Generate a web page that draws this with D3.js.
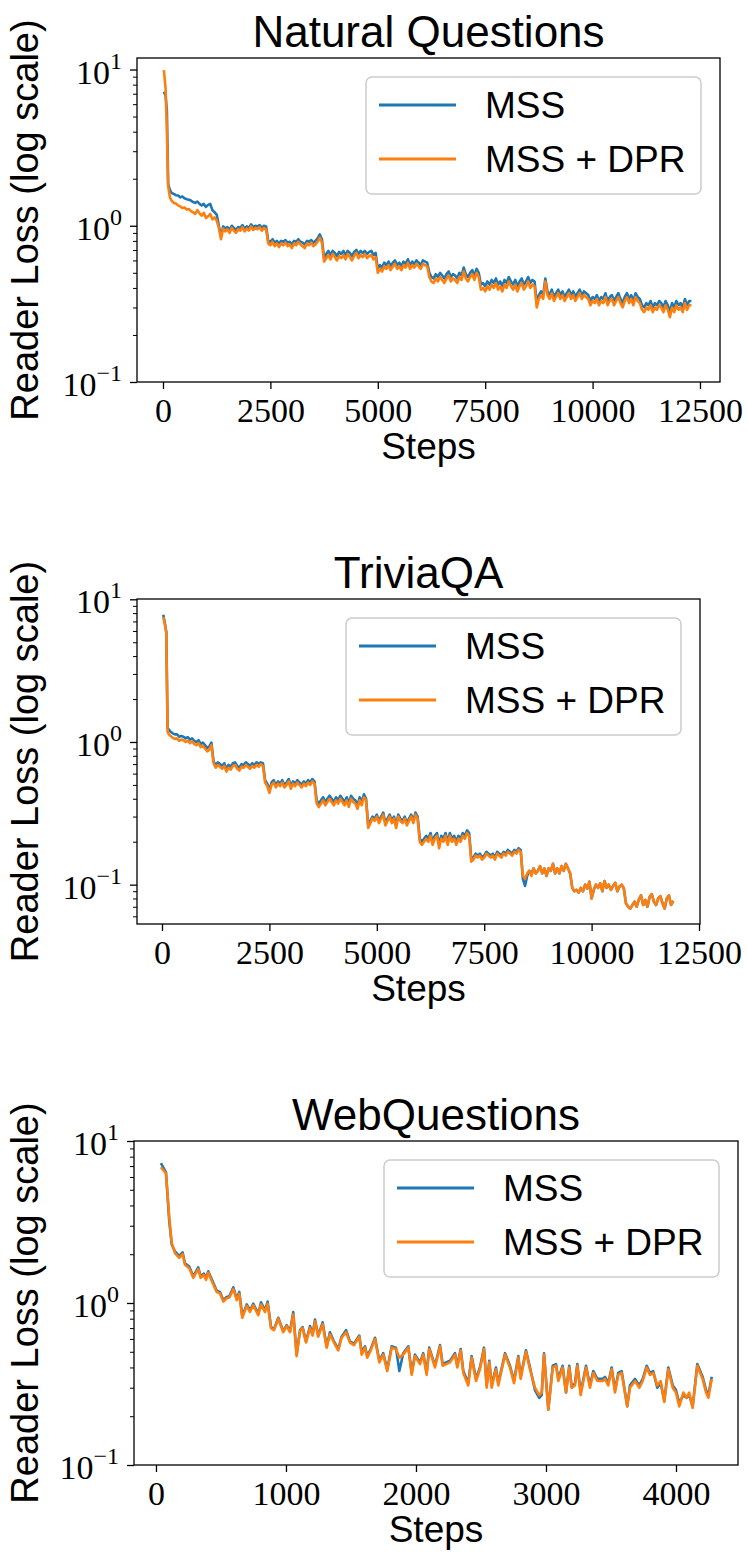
<!DOCTYPE html>
<html>
<head>
<meta charset="utf-8">
<script src="https://cdn.jsdelivr.net/npm/d3@7"></script>
<style>
body { margin: 0; background: #fff; }
</style>
</head>
<body>
<svg id="fig" width="748" height="1556"></svg>
<script>
var seriesNames = ["MSS", "MSS + DPR"];
var colors = ["#1f77b4", "#ff7f0e"];
var titles = ["Natural Questions", "TriviaQA", "WebQuestions"];
var xTicksLong = [0, 2500, 5000, 7500, 10000, 12500];
var xTicksShort = [0, 1000, 2000, 3000, 4000];
var yMajor = [0.1, 1, 10];
var yMajorLabels = ["\u22121", "0", "1"];

// Natural Questions (read every 50 steps)
var nqSteps = [20, 60, 90, 120, 160].concat(d3.range(200, 12350, 50));
var nqMss = [7.2, 6.8, 5.5, 1.85, 1.70,
  1.62, 1.60, 1.57, 1.56, 1.52, 1.54, 1.50, 1.48, 1.47, 1.45,
  1.42, 1.40, 1.43, 1.38, 1.35, 1.38, 1.32, 1.36, 1.38, 1.26,
  1.22, 1.18, 1.00, 0.86, 0.99, 0.96, 0.98, 0.94, 1.00, 0.97,
  0.94, 0.98, 0.97, 1.01, 0.96, 0.99, 0.97, 1.02, 0.98, 1.00,
  0.99, 1.01, 0.97, 1.00, 0.99, 0.80, 0.79, 0.82, 0.78, 0.80,
  0.77, 0.80, 0.79, 0.81, 0.78, 0.79, 0.76, 0.80, 0.79, 0.82,
  0.79, 0.78, 0.76, 0.80, 0.79, 0.81, 0.78, 0.80, 0.83, 0.88,
  0.82, 0.62, 0.66, 0.69, 0.65, 0.69, 0.67, 0.64, 0.68, 0.66,
  0.69, 0.65, 0.69, 0.67, 0.64, 0.68, 0.70, 0.66, 0.69, 0.67,
  0.69, 0.66, 0.68, 0.69, 0.65, 0.67, 0.53, 0.56, 0.54, 0.58,
  0.56, 0.59, 0.55, 0.58, 0.60, 0.56, 0.58, 0.55, 0.59, 0.57,
  0.61, 0.56, 0.59, 0.57, 0.60, 0.58, 0.56, 0.60, 0.59, 0.58,
  0.50, 0.47, 0.46, 0.49, 0.47, 0.50, 0.48, 0.46, 0.49, 0.51,
  0.47, 0.49, 0.48, 0.46, 0.50, 0.48, 0.54, 0.49, 0.47, 0.50,
  0.52, 0.48, 0.53, 0.50, 0.42, 0.43, 0.41, 0.44, 0.42, 0.45,
  0.43, 0.46, 0.42, 0.44, 0.41, 0.45, 0.43, 0.47, 0.44, 0.42,
  0.45, 0.41, 0.44, 0.46, 0.42, 0.44, 0.47, 0.43, 0.45, 0.44,
  0.32, 0.36, 0.38, 0.36, 0.46, 0.38, 0.36, 0.39, 0.35, 0.37,
  0.39, 0.36, 0.38, 0.35, 0.37, 0.39, 0.36, 0.38, 0.35, 0.37,
  0.39, 0.36, 0.38, 0.37, 0.36, 0.33, 0.35, 0.34, 0.36, 0.33,
  0.35, 0.34, 0.37, 0.33, 0.35, 0.36, 0.33, 0.35, 0.37, 0.34,
  0.32, 0.35, 0.37, 0.34, 0.36, 0.33, 0.37, 0.35, 0.34, 0.31,
  0.30, 0.32, 0.31, 0.33, 0.30, 0.32, 0.31, 0.33, 0.32, 0.30,
  0.33, 0.31, 0.28, 0.32, 0.30, 0.33, 0.31, 0.32, 0.30, 0.34,
  0.31, 0.33, 0.33];
var nqDpr = [9.9, 7.6, 4.2, 1.8, 1.52,
  1.45, 1.40, 1.39, 1.35, 1.33, 1.30, 1.31, 1.27, 1.28, 1.24,
  1.22, 1.19, 1.26, 1.20, 1.16, 1.21, 1.12, 1.15, 1.19, 1.10,
  1.13, 1.08, 0.97, 0.82, 0.96, 0.92, 0.95, 0.90, 0.97, 0.93,
  0.90, 0.95, 0.93, 0.98, 0.92, 0.96, 0.93, 0.99, 0.94, 0.97,
  0.95, 0.98, 0.93, 0.97, 0.95, 0.77, 0.75, 0.79, 0.74, 0.77,
  0.73, 0.77, 0.75, 0.78, 0.74, 0.76, 0.72, 0.77, 0.75, 0.79,
  0.76, 0.74, 0.72, 0.77, 0.75, 0.78, 0.74, 0.76, 0.79, 0.84,
  0.78, 0.59, 0.62, 0.65, 0.61, 0.66, 0.63, 0.60, 0.64, 0.62,
  0.65, 0.61, 0.66, 0.63, 0.60, 0.64, 0.67, 0.62, 0.65, 0.63,
  0.66, 0.62, 0.64, 0.65, 0.61, 0.63, 0.50, 0.53, 0.51, 0.55,
  0.53, 0.56, 0.52, 0.55, 0.57, 0.53, 0.55, 0.52, 0.56, 0.54,
  0.58, 0.53, 0.56, 0.54, 0.57, 0.55, 0.53, 0.57, 0.56, 0.55,
  0.47, 0.44, 0.43, 0.46, 0.44, 0.47, 0.45, 0.43, 0.46, 0.48,
  0.44, 0.46, 0.45, 0.43, 0.47, 0.45, 0.51, 0.46, 0.44, 0.47,
  0.49, 0.45, 0.50, 0.47, 0.39, 0.40, 0.38, 0.41, 0.39, 0.42,
  0.40, 0.43, 0.39, 0.41, 0.38, 0.42, 0.40, 0.44, 0.41, 0.39,
  0.42, 0.38, 0.41, 0.43, 0.39, 0.41, 0.44, 0.40, 0.42, 0.41,
  0.30, 0.34, 0.36, 0.34, 0.44, 0.36, 0.34, 0.37, 0.33, 0.35,
  0.37, 0.34, 0.36, 0.33, 0.35, 0.37, 0.34, 0.36, 0.33, 0.35,
  0.37, 0.34, 0.36, 0.35, 0.34, 0.31, 0.33, 0.32, 0.34, 0.31,
  0.33, 0.32, 0.35, 0.31, 0.33, 0.34, 0.31, 0.33, 0.35, 0.32,
  0.30, 0.33, 0.35, 0.32, 0.34, 0.31, 0.35, 0.33, 0.32, 0.29,
  0.28, 0.30, 0.29, 0.31, 0.28, 0.30, 0.29, 0.31, 0.30, 0.28,
  0.31, 0.29, 0.26, 0.30, 0.28, 0.31, 0.29, 0.30, 0.28, 0.32,
  0.29, 0.31, 0.31];

// TriviaQA (read every 50 steps)
var tqSteps = [30, 70, 100, 130, 160].concat(d3.range(200, 11950, 50));
var tqMss = [7.8, 6.7, 5.9, 1.25, 1.22,
  1.18, 1.15, 1.13, 1.13, 1.09, 1.10, 1.09, 1.06, 1.08, 1.04,
  1.06, 1.02, 1.00, 1.03, 0.97, 0.99, 0.95, 0.91, 0.93, 0.99,
  0.73, 0.69, 0.72, 0.70, 0.68, 0.71, 0.65, 0.69, 0.67, 0.71,
  0.72, 0.68, 0.66, 0.70, 0.69, 0.72, 0.70, 0.68, 0.71, 0.69,
  0.72, 0.70, 0.72, 0.71, 0.54, 0.51, 0.46, 0.52, 0.54, 0.50,
  0.53, 0.51, 0.54, 0.50, 0.52, 0.55, 0.49, 0.53, 0.51, 0.54,
  0.52, 0.50, 0.53, 0.51, 0.54, 0.52, 0.55, 0.53, 0.39, 0.37,
  0.39, 0.41, 0.38, 0.40, 0.42, 0.40, 0.38, 0.41, 0.39, 0.42,
  0.40, 0.38, 0.41, 0.37, 0.42, 0.40, 0.39, 0.36, 0.41, 0.38,
  0.43, 0.40, 0.26, 0.28, 0.30, 0.29, 0.31, 0.28, 0.30, 0.32,
  0.27, 0.29, 0.31, 0.28, 0.30, 0.26, 0.31, 0.29, 0.28, 0.30,
  0.27, 0.29, 0.31, 0.28, 0.32, 0.30, 0.21, 0.20, 0.21, 0.22,
  0.21, 0.23, 0.20, 0.22, 0.23, 0.19, 0.22, 0.21, 0.23, 0.20,
  0.23, 0.21, 0.22, 0.20, 0.22, 0.21, 0.23, 0.22, 0.24, 0.23,
  0.15, 0.155, 0.165, 0.16, 0.165, 0.155, 0.16, 0.17, 0.165, 0.16,
  0.165, 0.155, 0.17, 0.165, 0.16, 0.17, 0.165, 0.175, 0.17, 0.165,
  0.175, 0.17, 0.18, 0.175, 0.11, 0.098, 0.115, 0.125, 0.12, 0.13,
  0.12, 0.125, 0.135, 0.12, 0.13, 0.115, 0.13, 0.125, 0.14, 0.12,
  0.13, 0.12, 0.135, 0.125, 0.14, 0.13, 0.12, 0.095, 0.09, 0.092,
  0.088, 0.095, 0.09, 0.10, 0.094, 0.105, 0.08, 0.092, 0.1, 0.095,
  0.102, 0.09, 0.106, 0.095, 0.1, 0.092, 0.098, 0.103, 0.09, 0.097,
  0.1, 0.094, 0.074, 0.07, 0.068, 0.072, 0.076, 0.07, 0.079, 0.084,
  0.072, 0.078, 0.07, 0.082, 0.086, 0.076, 0.072, 0.08, 0.083, 0.074,
  0.068, 0.08, 0.084, 0.072, 0.077];
var tqDpr = [7.5, 6.6, 5.8, 1.18, 1.13,
  1.10, 1.07, 1.05, 1.06, 1.02, 1.04, 1.03, 1.00, 1.02, 0.98,
  1.01, 0.97, 0.95, 0.98, 0.92, 0.94, 0.90, 0.86, 0.88, 0.95,
  0.71, 0.66, 0.69, 0.67, 0.65, 0.68, 0.62, 0.66, 0.64, 0.68,
  0.69, 0.65, 0.63, 0.67, 0.66, 0.69, 0.67, 0.65, 0.68, 0.66,
  0.69, 0.67, 0.70, 0.68, 0.52, 0.49, 0.44, 0.50, 0.52, 0.48,
  0.51, 0.49, 0.52, 0.48, 0.50, 0.53, 0.47, 0.51, 0.49, 0.52,
  0.50, 0.48, 0.51, 0.49, 0.52, 0.50, 0.53, 0.51, 0.37, 0.35,
  0.37, 0.39, 0.36, 0.38, 0.40, 0.38, 0.36, 0.39, 0.37, 0.40,
  0.38, 0.36, 0.39, 0.35, 0.40, 0.38, 0.37, 0.34, 0.39, 0.36,
  0.41, 0.39, 0.25, 0.27, 0.29, 0.28, 0.30, 0.27, 0.29, 0.31,
  0.26, 0.28, 0.30, 0.27, 0.29, 0.25, 0.30, 0.28, 0.27, 0.29,
  0.26, 0.28, 0.30, 0.27, 0.31, 0.29, 0.20, 0.19, 0.20, 0.21,
  0.20, 0.22, 0.19, 0.21, 0.22, 0.18, 0.21, 0.20, 0.22, 0.19,
  0.22, 0.20, 0.21, 0.19, 0.21, 0.20, 0.22, 0.21, 0.23, 0.22,
  0.145, 0.15, 0.16, 0.155, 0.16, 0.15, 0.155, 0.165, 0.16, 0.155,
  0.16, 0.15, 0.165, 0.16, 0.155, 0.165, 0.16, 0.17, 0.165, 0.16,
  0.17, 0.165, 0.175, 0.17, 0.115, 0.11, 0.12, 0.125, 0.115, 0.13,
  0.12, 0.125, 0.135, 0.12, 0.13, 0.115, 0.13, 0.125, 0.14, 0.12,
  0.13, 0.12, 0.135, 0.125, 0.14, 0.13, 0.12, 0.095, 0.09, 0.092,
  0.088, 0.095, 0.09, 0.10, 0.094, 0.105, 0.08, 0.092, 0.1, 0.095,
  0.102, 0.09, 0.106, 0.095, 0.1, 0.092, 0.098, 0.103, 0.09, 0.097,
  0.1, 0.094, 0.074, 0.07, 0.068, 0.072, 0.076, 0.07, 0.079, 0.084,
  0.072, 0.078, 0.07, 0.082, 0.086, 0.076, 0.072, 0.08, 0.083, 0.074,
  0.068, 0.08, 0.084, 0.072, 0.077];

// WebQuestions
var wqSteps = [38, 77, 102, 121, 146, 179, 205, 223, 256, 287,
  325, 344, 369, 385, 402, 436, 467, 492, 518, 544,
  564, 595, 621, 641, 664, 698, 723, 748, 787, 808,
  838, 859, 885, 908, 941, 979, 1005, 1031, 1056, 1082,
  1108, 1128, 1154, 1185, 1205, 1223, 1248, 1282, 1313, 1338,
  1369, 1402, 1428, 1462, 1492, 1523, 1564, 1582, 1608, 1625,
  1652, 1685, 1718, 1748, 1779, 1813, 1846, 1872, 1902, 1941,
  1967, 1992, 2031, 2056, 2082, 2102, 2146, 2185, 2205, 2262,
  2300, 2318, 2344, 2364, 2402, 2428, 2462, 2492, 2523, 2544,
  2564, 2582, 2615, 2633, 2685, 2723, 2754, 2787, 2805, 2846,
  2877, 2915, 2948, 2967, 2985, 3018, 3052, 3077, 3095, 3128,
  3154, 3179, 3198, 3223, 3241, 3267, 3308, 3338, 3364, 3395,
  3436, 3454, 3479, 3505, 3531, 3556, 3582, 3625, 3646, 3685,
  3718, 3744, 3775, 3800, 3825, 3856, 3882, 3910, 3941, 3975,
  4000, 4025, 4056, 4082, 4102, 4128, 4164, 4205, 4231, 4249,
  4275];
var wqMss = [7.3, 6.4, 3.2, 2.3, 2.08, 1.95, 2.05, 1.76, 1.68, 1.46,
  1.66, 1.46, 1.52, 1.42, 1.57, 1.36, 1.19, 1.17, 1.04, 1.09,
  1.10, 1.25, 1.06, 1.17, 0.83, 0.98, 0.90, 0.99, 0.86, 1.01,
  0.90, 1.02, 0.71, 0.69, 0.81, 0.67, 0.73, 0.67, 0.88, 0.48,
  0.68, 0.71, 0.58, 0.72, 0.64, 0.79, 0.63, 0.76, 0.54, 0.66,
  0.58, 0.52, 0.62, 0.68, 0.58, 0.56, 0.63, 0.50, 0.54, 0.47,
  0.52, 0.61, 0.44, 0.49, 0.39, 0.54, 0.53, 0.38, 0.49, 0.54,
  0.37, 0.48, 0.43, 0.49, 0.37, 0.53, 0.41, 0.55, 0.42, 0.44,
  0.49, 0.41, 0.52, 0.38, 0.32, 0.47, 0.34, 0.40, 0.53, 0.31,
  0.44, 0.31, 0.40, 0.32, 0.49, 0.41, 0.33, 0.47, 0.35, 0.51,
  0.40, 0.29, 0.26, 0.27, 0.49, 0.22, 0.41, 0.42, 0.34, 0.41,
  0.28, 0.41, 0.30, 0.32, 0.42, 0.28, 0.41, 0.31, 0.38, 0.34,
  0.34, 0.35, 0.32, 0.40, 0.29, 0.37, 0.38, 0.23, 0.31, 0.34,
  0.31, 0.34, 0.41, 0.37, 0.38, 0.30, 0.32, 0.25, 0.40, 0.31,
  0.29, 0.24, 0.27, 0.26, 0.27, 0.23, 0.42, 0.35, 0.29, 0.27,
  0.35];
var wqDpr = [6.9, 6.3, 3.4, 2.35, 2.03, 1.90, 2.0, 1.72, 1.64, 1.43,
  1.62, 1.43, 1.49, 1.39, 1.54, 1.33, 1.17, 1.15, 1.02, 1.07,
  1.08, 1.22, 1.04, 1.14, 0.81, 0.96, 0.88, 0.97, 0.84, 0.98,
  0.88, 0.99, 0.70, 0.68, 0.80, 0.66, 0.72, 0.66, 0.85, 0.47,
  0.67, 0.70, 0.57, 0.70, 0.63, 0.77, 0.62, 0.74, 0.53, 0.64,
  0.57, 0.51, 0.61, 0.66, 0.57, 0.55, 0.62, 0.48, 0.53, 0.46,
  0.51, 0.60, 0.43, 0.48, 0.38, 0.53, 0.52, 0.46, 0.48, 0.53,
  0.36, 0.47, 0.42, 0.48, 0.36, 0.52, 0.40, 0.54, 0.41, 0.43,
  0.48, 0.40, 0.51, 0.37, 0.31, 0.46, 0.33, 0.39, 0.52, 0.30,
  0.43, 0.30, 0.39, 0.31, 0.48, 0.40, 0.32, 0.46, 0.34, 0.50,
  0.39, 0.30, 0.27, 0.28, 0.48, 0.22, 0.40, 0.41, 0.33, 0.40,
  0.28, 0.40, 0.30, 0.31, 0.41, 0.27, 0.40, 0.30, 0.37, 0.33,
  0.33, 0.34, 0.31, 0.39, 0.28, 0.36, 0.37, 0.23, 0.30, 0.33,
  0.30, 0.33, 0.40, 0.36, 0.37, 0.31, 0.33, 0.245, 0.39, 0.30,
  0.28, 0.23, 0.28, 0.26, 0.28, 0.225, 0.41, 0.34, 0.28, 0.26,
  0.34];

var sans = "'Liberation Sans', Arial, Helvetica, sans-serif";
var serif = "'Liberation Serif', 'Times New Roman', serif";

var panels = [
  {title: titles[0], steps: nqSteps, series: [nqMss, nqDpr], xDom: [-605, 12966], yDom: [0.1, 11.85],
   xTicks: xTicksLong, left: 137, right: 720, top: 58, bottom: 382},
  {title: titles[1], steps: tqSteps, series: [tqMss, tqDpr], xDom: [-582, 12523], yDom: [0.053, 10.05],
   xTicks: xTicksLong, left: 137, right: 700, top: 599, bottom: 924},
  {title: titles[2], steps: wqSteps, series: [wqMss, wqDpr], xDom: [-169, 4477], yDom: [0.1, 10],
   xTicks: xTicksShort, left: 134, right: 738, top: 1141, bottom: 1465}
];

var svg = d3.select("#fig");
svg.append("rect").attr("width", 748).attr("height", 1556).attr("fill", "#fff");

panels.forEach(function(p) {
  var x = d3.scaleLinear().domain(p.xDom).range([p.left, p.right]);
  var y = d3.scaleLog().domain(p.yDom).range([p.bottom, p.top]);
  var g = svg.append("g");

  var line = d3.line()
    .x(function(d) { return x(d[0]); })
    .y(function(d) { return y(d[1]); });

  p.series.forEach(function(vals, i) {
    g.append("path")
      .datum(p.steps.map(function(s, j) { return [s, vals[j]]; }))
      .attr("d", line)
      .attr("fill", "none")
      .attr("stroke", colors[i])
      .attr("stroke-width", 2.6)
      .attr("stroke-linejoin", "round");
  });

  // minor + major ticks on log axis
  var minors = [];
  [0.01, 0.1, 1].forEach(function(dec) {
    for (var k = 2; k <= 9; k++) {
      var v = dec * k;
      if (v >= p.yDom[0] && v <= p.yDom[1]) minors.push(v);
    }
  });
  var majors = yMajor.filter(function(v) { return v >= p.yDom[0] * 0.999 && v <= p.yDom[1] * 1.001; });

  var ym = g.append("g").attr("transform", "translate(" + p.left + ",0)")
    .call(d3.axisLeft(y).tickValues(minors).tickSize(4).tickFormat(""));
  ym.select(".domain").remove();
  ym.selectAll("line").attr("stroke", "#000").attr("stroke-width", 1);

  var yM = g.append("g").attr("transform", "translate(" + p.left + ",0)")
    .call(d3.axisLeft(y).tickValues(majors).tickSize(7).tickFormat(""));
  yM.select(".domain").remove();
  yM.selectAll("line").attr("stroke", "#000").attr("stroke-width", 1.3);

  var lab = g.selectAll(".ylab").data(majors).enter().append("text")
    .attr("x", p.left - 15)
    .attr("y", function(d) { return y(d) + 14; })
    .attr("text-anchor", "end")
    .attr("font-family", serif)
    .attr("font-size", 34)
    .attr("fill", "#000");
  lab.append("tspan").text("10");
  lab.append("tspan")
    .attr("dy", -15)
    .attr("font-size", 24)
    .text(function(d) { return yMajorLabels[yMajor.indexOf(d)]; });

  var xa = g.append("g").attr("transform", "translate(0," + p.bottom + ")")
    .call(d3.axisBottom(x).tickValues(p.xTicks).tickSize(7).tickPadding(9).tickFormat(d3.format("d")));
  xa.select(".domain").remove();
  xa.selectAll("line").attr("stroke", "#000").attr("stroke-width", 1.3);
  xa.selectAll("text")
    .attr("font-family", serif)
    .attr("font-size", 34)
    .attr("fill", "#000");

  // frame
  g.append("rect")
    .attr("x", p.left).attr("y", p.top)
    .attr("width", p.right - p.left).attr("height", p.bottom - p.top)
    .attr("fill", "none").attr("stroke", "#000").attr("stroke-width", 1.3);

  var cx = (p.left + p.right) / 2;
  var cy = (p.top + p.bottom) / 2;

  g.append("text")
    .attr("x", cx).attr("y", p.top - 11)
    .attr("text-anchor", "middle")
    .attr("font-family", sans).attr("font-size", 44)
    .text(p.title);

  g.append("text")
    .attr("x", cx).attr("y", p.bottom + 77)
    .attr("text-anchor", "middle")
    .attr("font-family", sans).attr("font-size", 37)
    .text("Steps");

  g.append("text")
    .attr("transform", "translate(38," + cy + ") rotate(-90)")
    .attr("text-anchor", "middle")
    .attr("font-family", sans).attr("font-size", 38)
    .text("Reader Loss (log scale)");

  // legend
  var lx = p.right - 19 - 335, ly = p.top + 19;
  var leg = g.append("g").attr("transform", "translate(" + lx + "," + ly + ")");
  leg.append("rect")
    .attr("width", 335).attr("height", 117)
    .attr("rx", 6).attr("ry", 6)
    .attr("fill", "#fff").attr("fill-opacity", 0.8)
    .attr("stroke", "#cccccc").attr("stroke-width", 1.5);
  seriesNames.forEach(function(name, i) {
    var yy = 28 + i * 54;
    leg.append("line")
      .attr("x1", 13).attr("x2", 90)
      .attr("y1", yy).attr("y2", yy)
      .attr("stroke", colors[i]).attr("stroke-width", 3);
    leg.append("text")
      .attr("x", 119).attr("y", yy + 13)
      .attr("font-family", sans).attr("font-size", 37)
      .text(name);
  });
});
</script>
</body>
</html>
